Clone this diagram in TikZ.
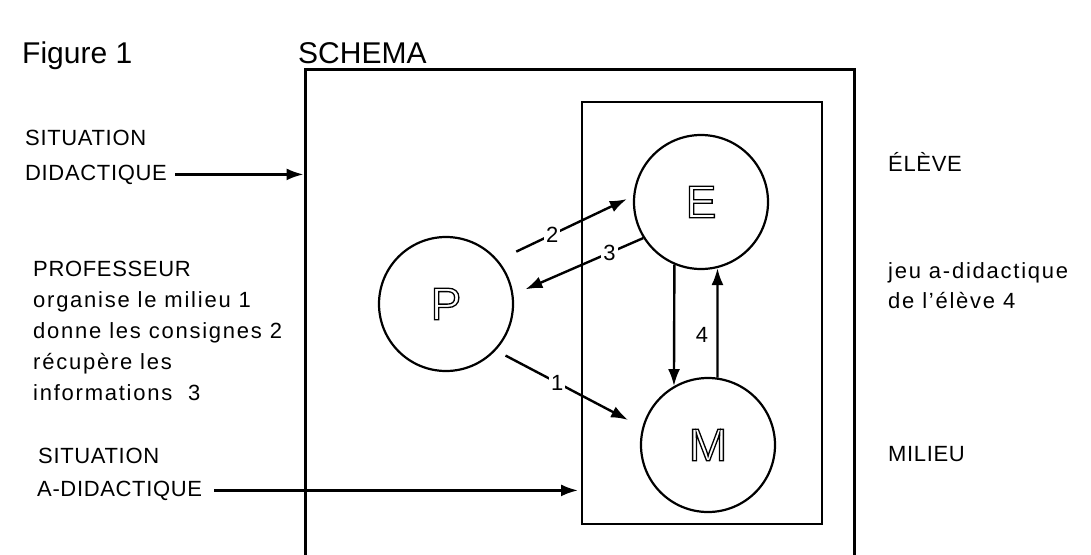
\documentclass[tikz,border=0pt]{standalone}
\usepackage{fontspec}
\setmainfont{Liberation Sans}
\usetikzlibrary{arrows.meta}
\newcommand{\outl}[1]{\special{pdf:literal direct 1 Tr 1.3 w}#1\special{pdf:literal direct 0 Tr}}
\tikzset{
  txt/.style={anchor=base west, inner sep=0pt, font=\fontsize{22}{26}\selectfont},
  caps/.style={txt, font=\fontsize{22}{26}\selectfont\addfontfeature{LetterSpace=3}},
  lctxt/.style={txt, font=\fontsize{22}{26}\selectfont\addfontfeature{LetterSpace=8}},
  head/.style={anchor=base west, inner sep=0pt, font=\fontsize{30}{36}\selectfont},
  role/.style={circle, draw, line width=2.2pt, minimum size=134pt, inner sep=0pt,
    font=\fontsize{46}{50}\selectfont},
  arr/.style={line width=2.4pt, -{Latex[length=17pt,width=12pt]}},
  num/.style={fill=white, inner sep=2pt, font=\fontsize{22}{26}\selectfont},
  frame/.style={line width=3pt},
}
\begin{document}
\begin{tikzpicture}[x=1pt, y=-1pt]
\useasboundingbox (0,0) rectangle (1091,554);

% titles
\node[head] (fig) at (22,63) {Figure 1};
\node[head] (schema) at (298,63) {SCHEMA};

% frames
\draw[frame] (305,560) -- (305,69) -- (854,69) -- (854,560);
\draw[frame, line width=2.6pt] (582,102) rectangle (822,524);

% circles
\node[role] (P) at (446,304) {\outl{P}};
\node[role] (E) at (701,202) {\outl{E}};
\node[role] (M) at (708,445) {\outl{M}};

% left texts
\node[caps] (sit1a) at (25,145) {SITUATION};
\node[caps] (sit1b) at (25,180) {DIDACTIQUE};
\node[caps] (prof) at (33,276) {PROFESSEUR};
\node[lctxt] (prof1) at (33,307) {organise le milieu 1};
\node[lctxt] (prof2) at (33,338) {donne les consignes 2};
\node[lctxt] (prof3) at (33,369) {récupère les};
\node[lctxt] (prof4) at (33,400) {informations\ \ 3};
\node[caps] (sit2a) at (38,463) {SITUATION};
\node[caps] (sit2b) at (37,496) {A-DIDACTIQUE};

% right texts
\node[caps] (eleve) at (888,171) {ÉLÈVE};
\node[lctxt] (jeu1) at (888,278) {jeu a-didactique};
\node[lctxt] (jeu2) at (888,308) {de l'élève 4};
\node[caps] (milieu) at (888,461) {MILIEU};

% entry arrows
\coordinate (outerL) at (303.5,0);
\coordinate (innerL) at (578,0);
\draw[arr, shorten <=8pt] (sit1b.east) -- (sit1b.east -| outerL);
\draw[arr, shorten <=12pt] (sit2b.east) -- (sit2b.east -| innerL);

% interactions
\draw[arr, shorten <=20pt, shorten >=7pt] (P.40) -- node[num, pos=0.4] (n2) {2} (E.175);
\draw[arr, shorten >=13pt] (E.212) -- node[num, pos=0.26] (n3) {3} (P.8);
\draw[arr, shorten <=11pt, shorten >=16pt] (P.317) -- node[num, pos=0.42] (n1) {1} (M.165);
\draw[arr] (E.247) -- (M.120);
\draw[arr] (M.82) -- (E.284);
\node[num] (n4) at (702,335) {4};
\end{tikzpicture}
\end{document}
